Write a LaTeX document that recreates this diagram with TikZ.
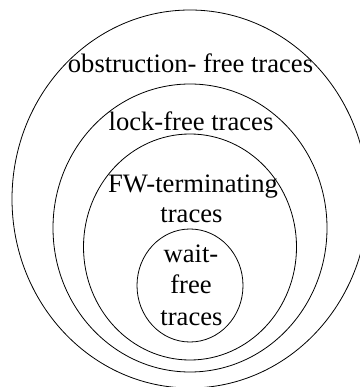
\documentclass[tikz,border=0pt]{standalone}
\usepackage{fontspec}
\setmainfont{Liberation Serif}
\usetikzlibrary{shapes.geometric}
\tikzset{
  ring/.style={draw, ellipse, line width=0.8pt, inner sep=0pt},
  lbl/.style={anchor=base, inner sep=0pt, font=\fontsize{26.6}{31}\selectfont}
}
\begin{document}
\begin{tikzpicture}[x=1pt,y=-1pt]
\useasboundingbox (0,0) rectangle (359,387);
\node[ring, minimum width=356pt, minimum height=378pt] (obs) at (190,199) {};
\node[ring, minimum width=274pt, minimum height=288pt] (lock) at (190,228) {};
\node[ring, minimum width=213pt, minimum height=226pt] (fw) at (190,247) {};
\node[ring, minimum width=106pt, minimum height=113pt] (wait) at (190,285.5) {};
\node[lbl] (tobs) at (190.5,73) {obstruction- free traces};
\node[lbl] (tlock) at (191,131) {lock-free traces};
\node[lbl] (tfw1) at (193,192) {FW-terminating};
\node[lbl] (tfw2) at (191.5,222) {traces};
\node[lbl] (tw1) at (191,262) {wait-};
\node[lbl] (tw2) at (191,293) {free};
\node[lbl] (tw3) at (191.5,325) {traces};
\end{tikzpicture}
\end{document}
